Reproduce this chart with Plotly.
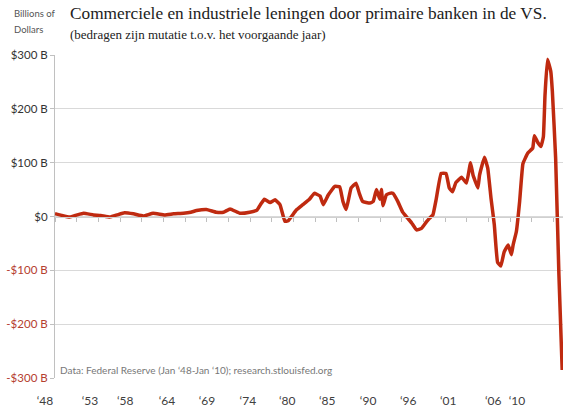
import plotly.graph_objects as go

# ---- data ----
years = [1948.0, 1948.8, 1949.8, 1950.7, 1951.5, 1952.7, 1953.6, 1954.7, 1955.6, 1956.5,
         1957.6, 1958.8, 1960.0, 1961.4, 1962.5, 1963.7, 1964.6, 1965.3, 1966.5, 1967.7,
         1968.6, 1969.4, 1970.6, 1971.8, 1972.7, 1973.2, 1973.6, 1974.3, 1974.9, 1975.5,
         1976.1, 1976.5, 1977.5, 1978.3, 1979.1, 1979.7, 1980.4, 1980.8, 1981.4, 1982.2,
         1982.8, 1983.2, 1983.6, 1984.2, 1984.8, 1985.2, 1985.6, 1986.5, 1986.9, 1987.3,
         1987.7, 1987.9, 1988.1, 1988.5, 1988.9, 1989.3, 1989.9, 1990.5, 1991.1, 1991.6,
         1992.2, 1992.8, 1993.4, 1993.8, 1994.2, 1994.6, 1995.2, 1995.8, 1996.2, 1996.6,
         1997.0, 1997.7, 1998.3, 1998.8, 1999.1, 1999.7, 1999.9, 2000.5, 2000.9, 2001.3,
         2001.7, 2002.1, 2002.5, 2002.9, 2003.4, 2003.8, 2004.0, 2004.4, 2004.8, 2005.2,
         2005.8, 2006.4, 2006.6, 2007.0, 2007.4, 2007.7, 2007.9, 2008.2, 2008.6, 2008.8,
         2009.2, 2009.6, 2010.0]
values = [5, 2, -1, 3, 6, 3, 2, -1, 3, 7,
          5, 1, 6, 3, 5, 6, 8, 11, 13, 8,
          8, 14, 6, 8, 12, 24, 32, 26, 31, 22,
          -9, -8, 12, 22, 32, 43, 38, 22, 40, 56,
          55, 28, 13, 53, 62, 43, 28, 25, 28, 50,
          32, 50, 20, 40, 43, 43, 28, 8, -3, -12,
          -25, -22, -10, -3, 3, 32, 80, 80, 53, 46,
          63, 73, 62, 100, 77, 53, 77, 110, 90, 34,
          -15, -85, -92, -66, -53, -71, -53, -28, 28, 98,
          118, 127, 150, 138, 130, 148, 225, 292, 270, 232,
          108, -108, -285]

y_ticks = [300, 200, 100, 0, -100, -200, -300]
y_labels = ["$300 B", "$200 B", "$100 B", "$0", "-$100 B", "-$200 B", "-$300 B"]
x_label_text = ["\u201848", "\u201853", "\u201858", "\u201864", "\u201869", "\u201874", "\u201880",
                "\u201885", "\u201890", "\u201896", "\u201801", "\u201806", "\u201810"]
x_label_pos = [1948.0, 1953.5, 1957.8, 1962.9, 1967.8, 1972.8, 1977.6,
               1982.5, 1987.5, 1992.4, 1997.3, 2002.8, 2005.7]

NEG = "#b5402f"
ytext = [f"<span style='color:{NEG}'>{t}</span>" if v < 0 else t for v, t in zip(y_ticks, y_labels)]

fig = go.Figure()
fig.add_trace(go.Scatter(x=years, y=values, mode="lines",
                         line=dict(color="#bf2a10", width=3.5, shape="spline", smoothing=0.3),
                         hoverinfo="skip", showlegend=False, cliponaxis=False))
# helper trace so the zero-line axis (ticks) is drawn
fig.add_trace(go.Scatter(x=[years[0], years[-1]], y=[0, 0], mode="lines", xaxis="x2",
                         line=dict(width=0), hoverinfo="skip", showlegend=False))

xr = [1948.0, 2010.1]
fig.update_layout(
    width=573, height=412, autosize=False,
    margin=dict(l=55, r=10, t=55, b=34),
    paper_bgcolor="white", plot_bgcolor="white",
    font=dict(family="Lato, Liberation Sans, sans-serif", color="#404040"),
    xaxis=dict(range=xr, tickmode="array", tickvals=x_label_pos, ticktext=x_label_text,
               showgrid=False, zeroline=False, showline=False, ticks="", automargin=False,
               ticklabelshift=-10, ticklabelstandoff=14,
               tickfont=dict(size=12, family="Lato, Liberation Sans, sans-serif", color="#404040")),
    xaxis2=dict(range=xr, overlaying="x", anchor="free", position=0.5, side="bottom",
                tick0=1948, dtick=2.65, ticks="outside", ticklen=4, tickcolor="#bfbfbf",
                showticklabels=False, showgrid=False, zeroline=False, automargin=False,
                showline=True, linecolor="#d0d0d0", linewidth=1),
    yaxis=dict(range=[-300, 300], tickmode="array", tickvals=y_ticks, ticktext=ytext,
               showgrid=True, gridcolor="#d9d9d9", gridwidth=1, zeroline=False, automargin=False,
               showline=True, linecolor="#c0c0c0", linewidth=1,
               ticks="outside", ticklen=4, tickcolor="#c0c0c0",
               tickfont=dict(size=11.5, family="Lato, Liberation Sans, sans-serif", color="#333333")),
    annotations=[
        dict(text="Commerciele en industriele leningen door primaire banken in de VS.",
             xref="paper", yref="paper", x=0.025, y=1.13, xanchor="left", yanchor="middle",
             showarrow=False, font=dict(family="Liberation Serif, serif", size=17.3, color="#222222")),
        dict(text="(bedragen zijn mutatie t.o.v. het voorgaande jaar)",
             xref="paper", yref="paper", x=0.025, y=1.065, xanchor="left", yanchor="middle",
             showarrow=False, font=dict(family="Liberation Serif, serif", size=13, color="#222222")),
        dict(text="Billions of", xref="paper", yref="paper", x=-0.0846, y=1.127,
             xanchor="left", yanchor="middle", showarrow=False,
             font=dict(family="Lato, Liberation Sans, sans-serif", size=9.5, color="#555555")),
        dict(text="Dollars", xref="paper", yref="paper", x=-0.0846, y=1.080,
             xanchor="left", yanchor="middle", showarrow=False,
             font=dict(family="Lato, Liberation Sans, sans-serif", size=9.5, color="#555555")),
        dict(text="Data: Federal Reserve (Jan \u201848-Jan \u201810); research.stlouisfed.org",
             xref="paper", yref="paper", x=0.005, y=0.026, xanchor="left", yanchor="middle",
             showarrow=False, font=dict(family="Lato, Liberation Sans, sans-serif", size=10, color="#777777")),
    ],
)

fig.write_html("out.html", post_script="document.body.style.margin='0px';",
               config={"displayModeBar": False})
